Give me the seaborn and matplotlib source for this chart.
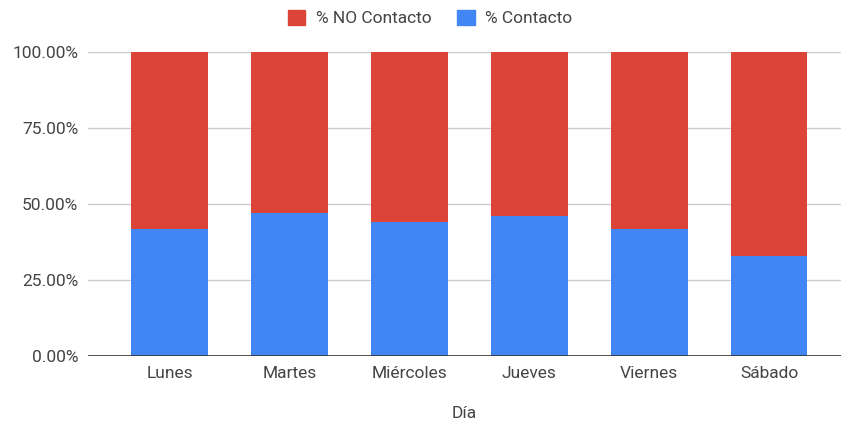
import matplotlib
matplotlib.use("Agg")
import matplotlib.pyplot as plt
import pandas as pd
import seaborn as sns
from matplotlib.patches import Patch
from matplotlib.ticker import FuncFormatter

dias = ['Lunes', 'Martes', 'Miércoles', 'Jueves', 'Viernes', 'Sábado']
contacto = [41.8, 46.9, 44.2, 46.0, 41.8, 32.8]
no_contacto = [58.2, 53.1, 55.8, 54.0, 58.2, 67.2]

df = pd.DataFrame({'Día': dias, 'contacto': contacto, 'no_contacto': no_contacto})
df['total'] = df['contacto'] + df['no_contacto']

sns.set_theme(style='white')
plt.rcParams['font.family'] = ['Roboto', 'DejaVu Sans']

rojo = '#DB4437'
azul = '#4285F4'
gris = '#444444'
fs = 12.5

fig = plt.figure(figsize=(8.41, 4.23), dpi=100)
ax = fig.add_axes([88 / 841, 67 / 423, 753 / 841, 304 / 423])

sns.barplot(data=df, x='Día', y='total', color=rojo, saturation=1, width=0.64,
            linewidth=0, ax=ax, zorder=2)
sns.barplot(data=df, x='Día', y='contacto', color=azul, saturation=1, width=0.64,
            linewidth=0, ax=ax, zorder=3)

ax.set_xlim(-0.68, 5.6)
ax.set_ylim(0, 100)
ax.set_yticks([0, 25, 50, 75, 100])
ax.yaxis.set_major_formatter(FuncFormatter(lambda v, p: f'{v:.2f}%'))
ax.grid(axis='y', color='#cccccc', linewidth=1, zorder=0)
ax.axhline(0, color='#333333', linewidth=1.2, zorder=4)
for s in ax.spines.values():
    s.set_visible(False)
ax.tick_params(axis='both', length=0, labelsize=fs, colors=gris)
ax.tick_params(axis='x', pad=7)
ax.tick_params(axis='y', pad=7)
ax.set_ylabel('')
ax.set_xlabel('Día', fontsize=fs, color=gris, labelpad=18)

handles = [Patch(color=rojo, label='% NO Contacto'), Patch(color=azul, label='% Contacto')]
fig.legend(handles=handles, loc='center', bbox_to_anchor=(430 / 841, 1 - 18 / 423), ncol=2,
           frameon=False, fontsize=fs, handlelength=1.0, handleheight=1.0,
           columnspacing=1.5, handletextpad=0.6, labelcolor=gris)

fig.savefig('out.png', dpi=100)
